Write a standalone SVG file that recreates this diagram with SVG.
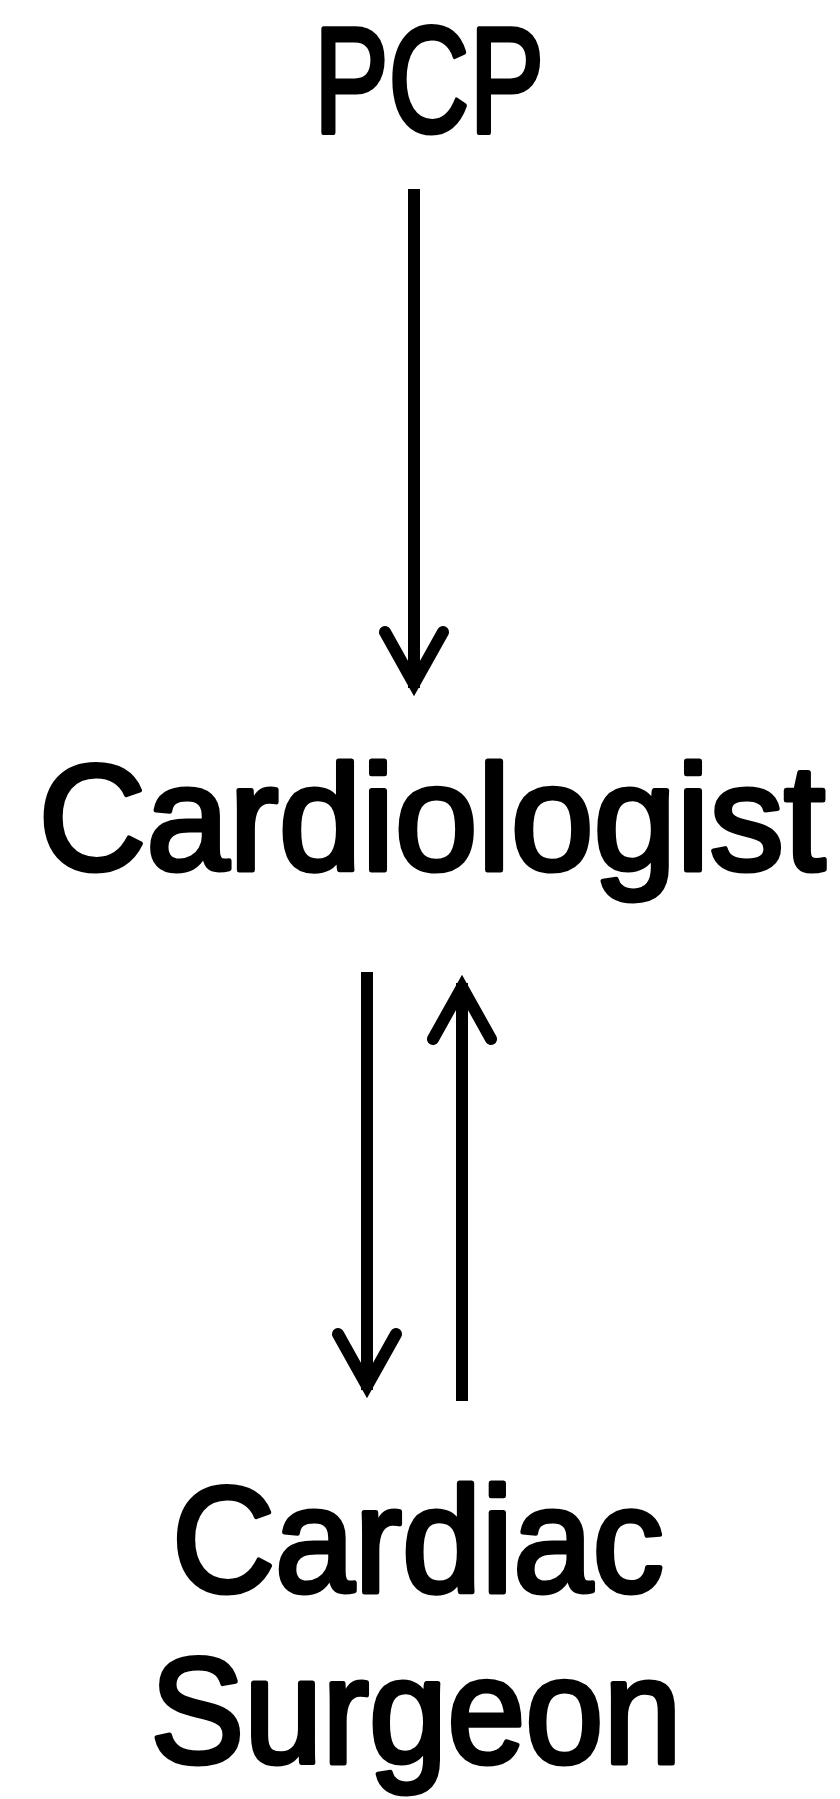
<svg xmlns="http://www.w3.org/2000/svg" width="840" height="1799" viewBox="0 0 840 1799">
<style>
text{font-family:"Comic Sans MS","Liberation Sans",sans-serif;font-size:150px;fill:#000;stroke:#000;stroke-width:5;stroke-linejoin:round;text-anchor:middle}
.shaft{stroke:#000;stroke-width:12;fill:none;stroke-linecap:butt}
.head{stroke:#000;stroke-width:12;fill:none;stroke-linecap:round;stroke-linejoin:miter;stroke-miterlimit:10}
</style>
<rect width="840" height="1799" fill="#fff"/>
<g id="pcp"><text x="429" y="132" textLength="230" lengthAdjust="spacingAndGlyphs">PCP</text></g>
<g id="cardiologist"><text x="432" y="870" textLength="787" lengthAdjust="spacingAndGlyphs">Cardiologist</text></g>
<g id="surgeon"><text x="418" y="1592" textLength="492" lengthAdjust="spacingAndGlyphs">Cardiac</text><text x="416" y="1763" textLength="531" lengthAdjust="spacingAndGlyphs">Surgeon</text></g>
<g id="connectors">
<line class="shaft" x1="414" y1="189" x2="414" y2="688"/>
<polyline class="head" points="385,632 414,684 443,632"/>
<line class="shaft" x1="367" y1="972" x2="367" y2="1390"/>
<polyline class="head" points="338,1334 367,1386 396,1334"/>
<line class="shaft" x1="462" y1="983" x2="462" y2="1401"/>
<polyline class="head" points="433,1039 462,987 491,1039"/>
</g>
</svg>
